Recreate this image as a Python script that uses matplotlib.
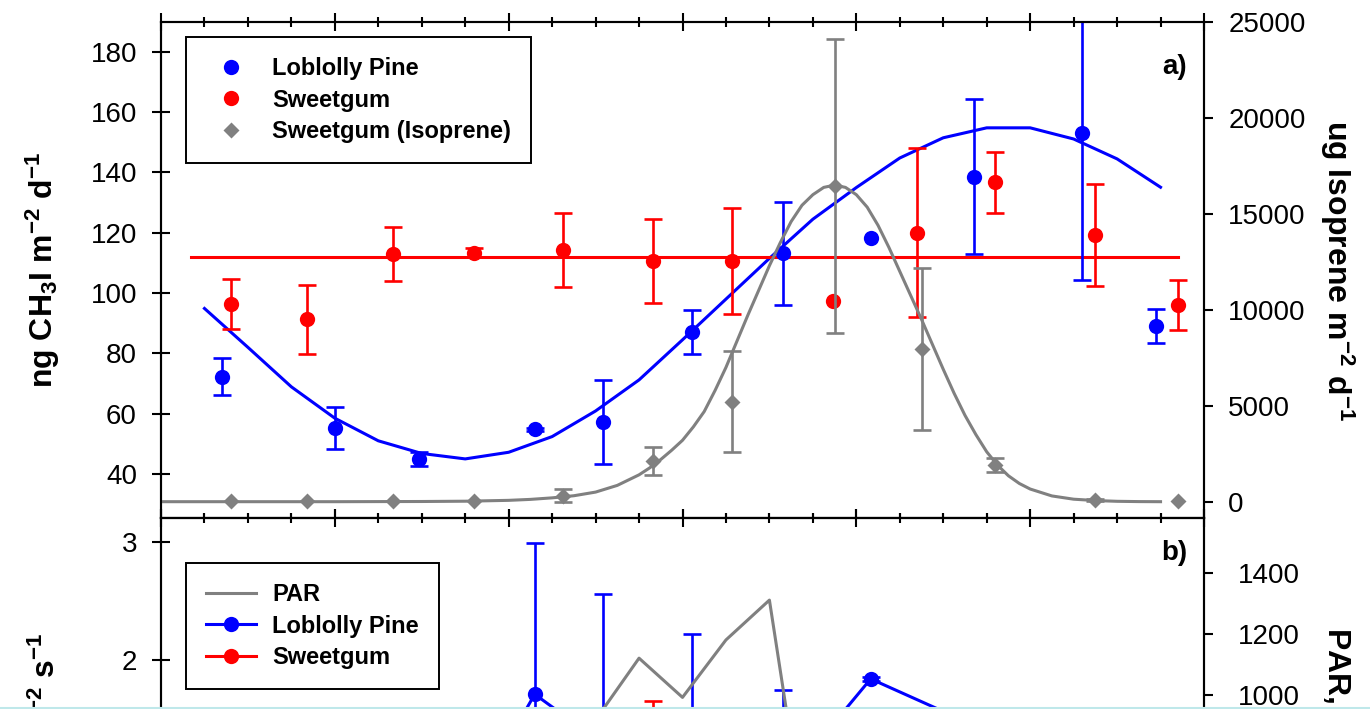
import numpy as np
import matplotlib.pyplot as plt
from matplotlib.lines import Line2D
from matplotlib.ticker import MultipleLocator

plt.rcParams['font.family'] = ['Liberation Sans', 'DejaVu Sans']
plt.rcParams['mathtext.fontset'] = 'custom'
plt.rcParams['mathtext.rm'] = 'Liberation Sans:bold'
plt.rcParams['mathtext.it'] = 'Liberation Sans:bold'
plt.rcParams['mathtext.bf'] = 'Liberation Sans:bold'
plt.rcParams['mathtext.default'] = 'rm'

# --- a) CH3I flux by hour of day ---
pine_hr = [1.4, 4.0, 5.94, 8.6, 10.17, 12.23, 14.32, 16.33, 18.7, 21.2, 22.9]
pine_flux = [72.3, 55.2, 45.0, 54.8, 57.3, 87.2, 113.2, 118.1, 138.6, 153.2, 89.1]
pine_err = [6.2, 7.0, 2.4, 0.6, 14.0, 7.3, 17.0, 0.0, 25.6, 49.0, 5.6]

gum_hr = [1.6, 3.36, 5.34, 7.2, 9.26, 11.33, 13.15, 15.47, 17.4, 19.2, 21.5, 23.4]
gum_flux = [96.3, 91.3, 112.9, 113.3, 114.3, 110.6, 110.6, 97.4, 120.0, 136.7, 119.2, 96.0]
gum_err = [8.3, 11.4, 9.0, 1.5, 12.3, 14.0, 17.5, 0.0, 28.0, 10.0, 17.0, 8.3]

iso_hr = [1.6, 3.36, 5.34, 7.2, 9.26, 11.33, 13.15, 15.5, 17.5, 19.2, 21.5, 23.4]
iso_flux = [50, 50, 50, 50, 313, 2121, 5211, 16443, 7953, 1911, 90, 30]
iso_err = [0, 0, 0, 0, 330, 720, 2630, 7660, 4230, 350, 60, 0]

# fitted curves
pine_fit_hr = [1, 2, 3, 4, 5, 6, 7, 8, 9, 10, 11, 12, 13, 14, 15, 16, 17, 18, 19, 20, 21, 22, 23]
pine_fit = [94.9, 82.0, 68.9, 58.5, 51.0, 46.8, 45.0, 47.2, 52.4, 60.9, 71.2, 84.5, 98.0, 111.5,
            124.5, 135.0, 144.8, 151.5, 154.8, 154.8, 151.1, 144.5, 135.1]
gum_fit_hr = [0.7, 23.4]
gum_fit = [111.8, 111.8]
iso_fit_hr = [0, 1, 2, 3, 4, 5, 6, 7, 8, 8.5, 9, 9.5, 10, 10.5, 11, 11.25, 11.5, 11.75,
              12, 12.25, 12.5, 12.75, 13, 13.25, 13.5, 13.75, 14, 14.25, 14.5, 14.75,
              15, 15.25, 15.5, 15.75, 16, 16.25, 16.5, 16.75, 17, 17.25, 17.5, 17.75,
              18, 18.25, 18.5, 18.75, 19, 19.25, 19.5, 19.75, 20, 20.5, 21, 21.5, 22, 22.5, 23]
iso_fit = [0, 0, 0, 0, 0, 5, 10, 25, 70, 120, 200, 310, 500, 850, 1400, 1770, 2200, 2680,
           3200, 3900, 4700, 5800, 7000, 8350, 9700, 11000, 12300, 13500, 14600, 15450,
           16000, 16380, 16500, 16380, 16000, 15350, 14400, 13250, 12000, 10750, 9500, 8200,
           6900, 5650, 4500, 3500, 2600, 1900, 1350, 950, 660, 300, 130, 60, 20, 5, 0]

# --- b) transpiration and PAR ---
pine_tr = [0.3, 0.2, 0.0, 1.71, 1.29, 1.2, 0.95, 1.84, 1.45, 0.6, 0.4]
pine_tr_err = [0.1, 0.1, 0.05, 1.28, 1.27, 1.02, 0.80, 0.02, 0.08, 0.1, 0.1]
gum_tr = [0.2, 0.15, 0.3, 0.7, 1.1, 1.35, 1.3, 1.2, 1.0, 0.8, 0.4, 0.2]
gum_tr_err = [0.05, 0.05, 0.1, 0.15, 0.25, 0.3, 0.2, 0.15, 0.2, 0.2, 0.1, 0.05]
par_hr = [6, 7, 8, 9, 10, 11, 12, 13, 14, 15, 16, 17, 18, 19]
par = [40, 250, 520, 760, 918, 1121, 992, 1181, 1312, 385, 600, 420, 210, 60]

BLUE, RED, GRAY = '#0000ff', '#ff0000', '#808080'
MS = 11
LW = 2.2


def draw_errs(ax, x, y, e, color):
    x, y, e = np.asarray(x), np.asarray(y), np.asarray(e)
    keep = e > 0
    ax.errorbar(x[keep], y[keep], yerr=e[keep], fmt='none', ecolor=color,
                elinewidth=1.9, capsize=6.7, capthick=1.9, zorder=2)


def style_axes(ax):
    for s in ax.spines.values():
        s.set_linewidth(1.5)
    ax.tick_params(axis='y', which='major', direction='inout', length=13, width=1.5,
                   labelsize=20, pad=10.8)
    ax.tick_params(axis='x', which='major', direction='inout', length=13, width=1.5,
                   top=True, bottom=True, labelbottom=False)
    ax.tick_params(axis='x', which='minor', direction='inout', length=6.5, width=1.5,
                   top=True, bottom=True)
    ax.set_xlim(0, 24)
    ax.xaxis.set_major_locator(MultipleLocator(4))
    ax.xaxis.set_minor_locator(MultipleLocator(1))


fig = plt.figure(figsize=(13.7, 7.09), dpi=100)
ax_a = fig.add_axes([161 / 1370, 1 - 518 / 709, 1043 / 1370, 496 / 709])
ax_b = fig.add_axes([161 / 1370, 1 - 999 / 709, 1043 / 1370, 481 / 709])

# panel a
style_axes(ax_a)
ax_a.set_ylim(25.4, 189.9)
ax_a.yaxis.set_major_locator(MultipleLocator(20))
ax_a.plot(pine_fit_hr, pine_fit, color=BLUE, lw=LW, zorder=1)
ax_a.plot(gum_fit_hr, gum_fit, color=RED, lw=LW, zorder=1)
draw_errs(ax_a, pine_hr, pine_flux, pine_err, BLUE)
draw_errs(ax_a, gum_hr, gum_flux, gum_err, RED)
ax_a.plot(pine_hr, pine_flux, 'o', color=BLUE, ms=MS, mec='none', zorder=3)
ax_a.plot(gum_hr, gum_flux, 'o', color=RED, ms=MS, mec='none', zorder=3)
ax_a.set_ylabel('ng CH$_3$I m$^{-2}$ d$^{-1}$', fontsize=23, fontweight='bold')
ax_a.yaxis.set_label_coords(-0.0949, 0.5)
ax_a.text(0.9837, 0.909, 'a)', transform=ax_a.transAxes, ha='right', va='center',
          fontsize=20, fontweight='bold')

ax_ar = ax_a.twinx()
ax_ar.set_ylim(-850, 25000)
ax_ar.yaxis.set_major_locator(MultipleLocator(5000))
for s in ax_ar.spines.values():
    s.set_linewidth(1.5)
ax_ar.tick_params(axis='y', direction='out', length=6.7, width=1.5, labelsize=20, pad=10.8)
ax_ar.plot(iso_fit_hr, iso_fit, color=GRAY, lw=LW, zorder=1)
draw_errs(ax_ar, iso_hr, iso_flux, iso_err, GRAY)
ax_ar.plot(iso_hr, iso_flux, 'D', color=GRAY, ms=8.5, mec='none', zorder=3)
ax_ar.set_ylabel('ug Isoprene m$^{-2}$ d$^{-1}$', fontsize=23, fontweight='bold',
                 rotation=270, va='bottom')
ax_ar.yaxis.set_label_coords(1.1094, 0.5)

leg_kw = dict(loc='upper left', bbox_transform=fig.transFigure, borderaxespad=0,
              frameon=True, fancybox=False, framealpha=1, edgecolor='black',
              prop={'weight': 'bold', 'size': 17}, handlelength=2.1, handletextpad=0.7,
              borderpad=0.85, labelspacing=0.36, numpoints=1)
h_a = [Line2D([], [], ls='none', marker='o', color=BLUE, ms=MS, mec='none'),
       Line2D([], [], ls='none', marker='o', color=RED, ms=MS, mec='none'),
       Line2D([], [], ls='none', marker='D', color=GRAY, ms=8.5, mec='none')]
leg_a = ax_ar.legend(h_a, ['Loblolly Pine', 'Sweetgum', 'Sweetgum (Isoprene)'],
                     bbox_to_anchor=(186 / 1370, 1 - 37 / 709), **leg_kw)
leg_a.get_frame().set_linewidth(1.4)

# panel b
style_axes(ax_b)
ax_b.set_ylim(-0.866, 3.2)
ax_b.yaxis.set_major_locator(MultipleLocator(1))
draw_errs(ax_b, pine_hr, pine_tr, pine_tr_err, BLUE)
draw_errs(ax_b, gum_hr, gum_tr, gum_tr_err, RED)
ax_b.plot(pine_hr, pine_tr, '-o', color=BLUE, lw=LW, ms=MS, mec='none', zorder=3)
ax_b.plot(gum_hr, gum_tr, '-o', color=RED, lw=LW, ms=MS, mec='none', zorder=3)
ax_b.set_ylabel('mmol H$_2$O m$^{-2}$ s$^{-1}$', fontsize=23, fontweight='bold')
ax_b.yaxis.set_label_coords(-0.0949, 0.478)
ax_b.text(0.9837, 0.927, 'b)', transform=ax_b.transAxes, ha='right', va='center',
          fontsize=20, fontweight='bold')

ax_br = ax_b.twinx()
ax_br.set_ylim(0, 1582)
ax_br.yaxis.set_major_locator(MultipleLocator(200))
for s in ax_br.spines.values():
    s.set_linewidth(1.5)
ax_br.tick_params(axis='y', direction='out', length=6.7, width=1.5, labelsize=20, pad=18)
ax_br.plot(par_hr, par, color=GRAY, lw=LW, zorder=1)
ax_br.set_ylabel('PAR, \u00b5mol m$^{-2}$ s$^{-1}$', fontsize=23, fontweight='bold',
                 rotation=270, va='bottom')
ax_br.yaxis.set_label_coords(1.1094, 0.484)

h_b = [Line2D([], [], color=GRAY, lw=LW),
       Line2D([], [], color=BLUE, lw=LW, marker='o', ms=MS, mec='none'),
       Line2D([], [], color=RED, lw=LW, marker='o', ms=MS, mec='none')]
leg_b = ax_br.legend(h_b, ['PAR', 'Loblolly Pine', 'Sweetgum'],
                     bbox_to_anchor=(186 / 1370, 1 - 563 / 709), **leg_kw)
leg_b.get_frame().set_linewidth(1.4)

# thin rule along the bottom edge
fig.add_artist(Line2D([0, 1], [1.5 / 709, 1.5 / 709], color='#bfe8ea', lw=1.5,
                      transform=fig.transFigure))

fig.savefig('out.png', dpi=100)
